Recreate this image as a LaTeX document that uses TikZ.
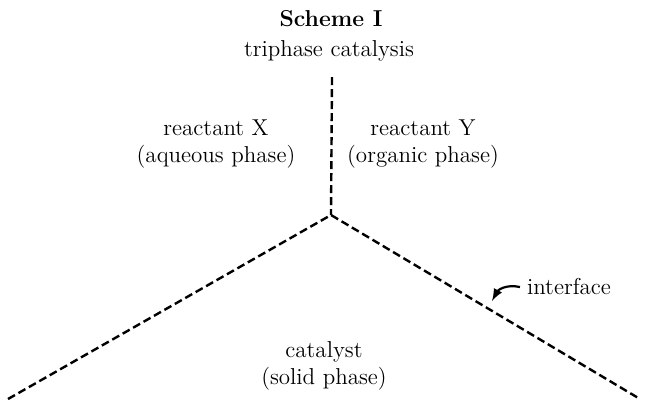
\documentclass[tikz,border=0pt]{standalone}
\usetikzlibrary{arrows}

\begin{document}
\begin{tikzpicture}[x=0.5pt,y=-0.5pt,
    phase/.style={align=center,font=\fontsize{11.5}{13.5}\selectfont},
    interface/.style={line width=1.2pt,dash pattern=on 4pt off 2pt}]
    \useasboundingbox (0,0) rectangle (646,404);
    \node[font=\fontsize{11.5}{13.5}\selectfont\bfseries] (title) at (331,19) {Scheme I};
    \node[phase] (kind) at (329,51) {triphase catalysis};
    \coordinate (top) at (332,77);
    \coordinate (V) at (331,215);   % point where the three phases meet
    \coordinate (L) at (8,399);
    \coordinate (R) at (640,399);
    \draw[interface] (top) -- (V);
    \draw[interface] (L) -- (V) -- (R);
    \node[phase] (X) at (216,144) {reactant X\\(aqueous phase)};
    \node[phase] (Y) at (423,144) {reactant Y\\(organic phase)};
    \node[phase] (cat) at (324,366) {catalyst\\(solid phase)};
    \node[phase,anchor=west] (iface) at (520,287) {interface};
    \draw[line width=1.1pt,-latex] (iface.west) .. controls (506,284) and (498,290) .. (492,301);
\end{tikzpicture}
\end{document}
